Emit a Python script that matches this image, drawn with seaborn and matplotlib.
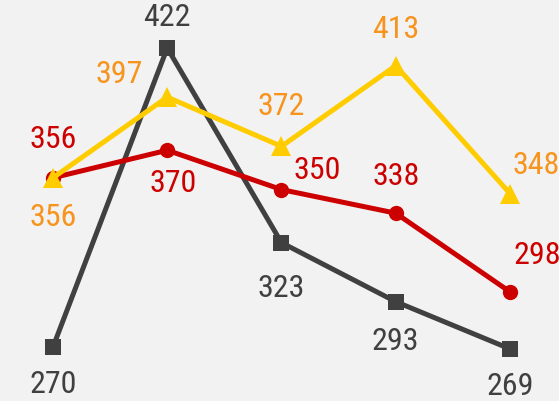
import pandas as pd
import seaborn as sns
import matplotlib.pyplot as plt

# data
periods = [0, 1, 2, 3, 4]
gray_vals = [270, 422, 323, 293, 269]
red_vals = [356, 370, 350, 338, 298]
yellow_vals = [356, 397, 372, 413, 348]

sns.set_theme(style='white')
plt.rcParams['font.family'] = ['Roboto Condensed', 'DejaVu Sans']

bg = '#f2f2f2'
fig = plt.figure(figsize=(5.59, 4.01), dpi=100, facecolor=bg)
ax = fig.add_axes([0, 0, 1, 1], facecolor=bg)

series = [
    # values, line colour, label colour, marker, size, label offsets (px)
    (gray_vals, '#404040', '#404040', 's', 12,
     [(0, -38), (0, 30), (0, -46), (0, -40), (0, -38)]),
    (red_vals, '#cc0000', '#cc0000', 'o', 11,
     [(0, 38), (6, -33), (36, 19), (0, 37), (27, 36)]),
    (yellow_vals, '#ffcc00', '#f7941d', '^', 14,
     [(0, -40), (-48, 23), (0, 40), (0, 36), (26, 28)]),
]

for vals, col, lcol, mk, ms, offs in series:
    d = pd.DataFrame({'x': periods, 'y': vals})
    sns.lineplot(data=d, x='x', y='y', color=col, linewidth=3.6, marker=mk,
                 markersize=ms, markeredgewidth=0, ax=ax)
    for x, y, (dx, dy) in zip(periods, vals, offs):
        ax.annotate(str(y), (x, y), xytext=(dx, dy), textcoords='offset pixels',
                    ha='center', va='center', color=lcol, fontsize=23)

ax.set_xlim(-0.464, 4.429)
ax.set_ylim(242.5, 446.4)
ax.set_axis_off()

fig.savefig('out.png', dpi=100, facecolor=bg)
